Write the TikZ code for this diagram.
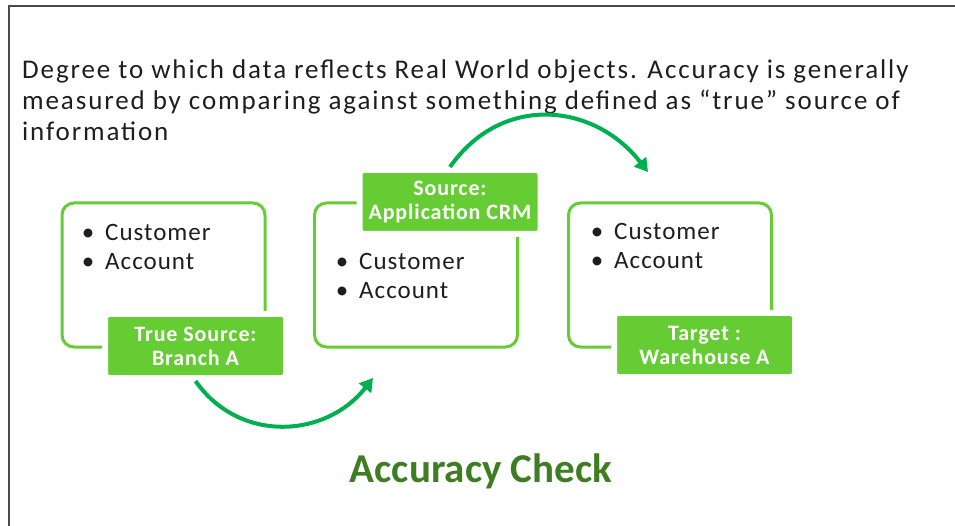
\documentclass[tikz,border=0pt]{standalone}
\usepackage{fontspec}
\setmainfont{Carlito}
\usetikzlibrary{arrows.meta}
\definecolor{boxgreen}{HTML}{66CC33}
\definecolor{arrowgreen}{HTML}{00B050}
\definecolor{titlegreen}{HTML}{3E7D22}
\definecolor{inkgray}{HTML}{1E1E1E}
\definecolor{framegray}{HTML}{4A4A4A}
\tikzset{
  itembox/.style={draw=boxgreen, line width=3pt, rounded corners=12pt,
    minimum width=203pt, minimum height=144pt, inner sep=0pt},
  tag/.style={fill=boxgreen, draw=white, line width=6pt, rounded corners=4pt,
    minimum width=181pt, minimum height=64pt, align=center, text=white,
    font=\fontsize{22}{24}\selectfont\bfseries\addfontfeatures{LetterSpace=4},
    inner sep=0pt},
  bodytext/.style={anchor=base west, inner sep=0pt, text=inkgray,
    font=\fontsize{27}{31}\selectfont\addfontfeatures{LetterSpace=7}},
  itemtext/.style={anchor=base west, inner sep=0pt, text=inkgray,
    font=\fontsize{25}{30}\selectfont\addfontfeatures{LetterSpace=4}},
  dot/.style={anchor=base, inner sep=0pt, text=inkgray,
    font=\fontsize{25}{30}\selectfont},
  flow/.style={draw=arrowgreen, line width=4pt,
    -{Triangle[length=13pt,width=15pt]}}
}
\begin{document}
\begin{tikzpicture}[x=1pt,y=-1pt]
\useasboundingbox (0,0) rectangle (955,526);

% slide frame
\draw[framegray, line width=1.5pt] (9,526) -- (9,6) -- (955,6);

% description
\node[bodytext] (d1) at (22,79) {Degree to which data reflects Real World objects. Accuracy is generally};
\node[bodytext] (d2) at (22,110) {measured by comparing against something defined as “true” source of};
\node[bodytext] (d3) at (22,141) {information};

% three systems
\node[itembox] (b1) at (163.5,275) {};
\node[itembox] (b2) at (416,275) {};
\node[itembox] (b3) at (670,275) {};

% bullet lists
\node[dot] (b1d1) at (88,241) {•};
\node[itemtext] (b1t1) at (105,241) {Customer};
\node[dot] (b1d2) at (88,270) {•};
\node[itemtext] (b1t2) at (105,270) {Account};

\node[dot] (b2d1) at (342,270) {•};
\node[itemtext] (b2t1) at (359,270) {Customer};
\node[dot] (b2d2) at (342,299) {•};
\node[itemtext] (b2t2) at (359,299) {Account};

\node[dot] (b3d1) at (597,240) {•};
\node[itemtext] (b3t1) at (614,240) {Customer};
\node[dot] (b3d2) at (597,269) {•};
\node[itemtext] (b3t2) at (614,269) {Account};

% captions
\node[tag] (t1) at (195.5,346) {True Source:\\Branch A};
\node[tag] (t2) at (450,202) {Source:\\Application CRM};
\node[tag] (t3) at (704.5,345) {Target :\\Warehouse A};

% flow arrows
\coordinate (e1) at (373,378);
\coordinate (e2) at (648,172);
\draw[flow] (t1.south) to[out=-55, in=232, looseness=1.1] (e1);
\draw[flow] (t2.north) to[out=55, in=128, looseness=1.15] (e2);

% heading
\node[anchor=base, inner sep=0pt, text=titlegreen,
  font=\fontsize{41}{48}\selectfont\bfseries] (title) at (481,482) {Accuracy Check};
\end{tikzpicture}
\end{document}
